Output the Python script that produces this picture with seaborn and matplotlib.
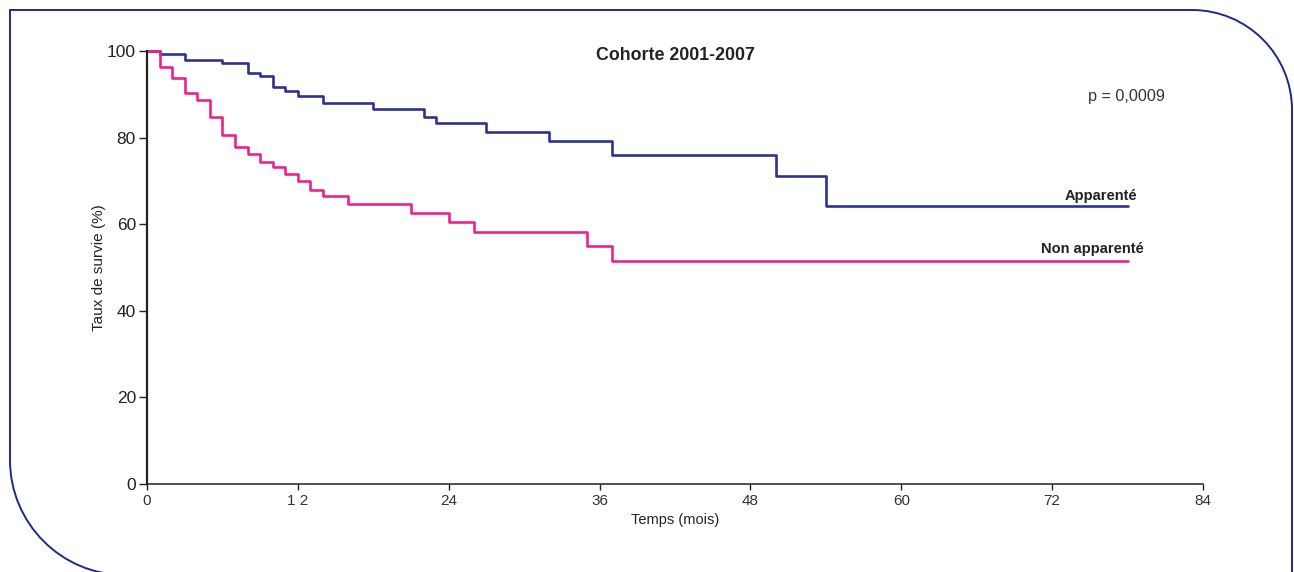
import numpy as np
import pandas as pd
import matplotlib
matplotlib.use("Agg")
import matplotlib.pyplot as plt
import seaborn as sns
from matplotlib.path import Path
from matplotlib.patches import PathPatch
from matplotlib.transforms import IdentityTransform

# ---- data ----
time_apparente = [0, 1, 3, 6, 8, 9, 10, 11, 12, 14, 18, 22, 23, 27, 32, 37, 50, 54, 78]
surv_apparente = [100, 99.2, 97.9, 97.3, 95.0, 94.2, 91.8, 90.8, 89.6, 88.1, 86.5,
                  84.8, 83.4, 81.4, 79.1, 76.0, 71.1, 64.1, 64.1]
time_non_apparente = [0, 1, 2, 3, 4, 5, 6, 7, 8, 9, 10, 11, 12, 13, 14, 16, 21, 24,
                      26, 35, 37, 78]
surv_non_apparente = [100, 96.4, 93.7, 90.2, 88.7, 84.8, 80.7, 77.9, 76.1, 74.4, 73.1,
                      71.6, 70.0, 67.9, 66.5, 64.6, 62.6, 60.4, 58.3, 55.0, 51.4, 51.4]
groups = ["Apparenté", "Non apparenté"]
x_ticks = [0, 12, 24, 36, 48, 60, 72, 84]
x_tick_labels = ["0", "1 2", "24", "36", "48", "60", "72", "84"]
y_ticks = [0, 20, 40, 60, 80, 100]

df = pd.concat([
    pd.DataFrame({"t": time_apparente, "s": surv_apparente, "g": groups[0]}),
    pd.DataFrame({"t": time_non_apparente, "s": surv_non_apparente, "g": groups[1]}),
], ignore_index=True)

sns.set_style("white")
plt.rcParams["font.family"] = ["Liberation Sans", "DejaVu Sans"]

W, H = 1294, 572
fig = plt.figure(figsize=(W / 100, H / 100), dpi=100)
ax = fig.add_axes([147 / W, 1 - 484 / H, (1203 - 147) / W, (484 - 51) / H])

palette = {groups[0]: "#2e3192", groups[1]: "#ec2290"}
sns.lineplot(data=df, x="t", y="s", hue="g", palette=palette, estimator=None,
             sort=False, drawstyle="steps-post", linewidth=1.9, legend=False,
             ax=ax, clip_on=False)

ax.set_xlim(0, 84)
ax.set_ylim(0, 100)
ax.set_xticks(x_ticks)
ax.set_xticklabels(x_tick_labels)
ax.set_yticks(y_ticks)
for s in ["top", "right"]:
    ax.spines[s].set_visible(False)
for s in ["left", "bottom"]:
    ax.spines[s].set_color("#222222")
ax.spines["left"].set_linewidth(1.6)
ax.spines["bottom"].set_linewidth(1.1)
ax.tick_params(axis="y", direction="out", length=6, width=1.0, color="#222222",
               labelsize=12.5, labelcolor="#222222", pad=2, left=True)
ax.tick_params(axis="x", direction="out", length=4, width=1.0, color="#222222",
               labelsize=11, labelcolor="#333333", pad=3, bottom=True)
ax.set_xlabel("Temps (mois)", fontsize=10.5, color="#222222", labelpad=4)
ax.set_ylabel("Taux de survie (%)", fontsize=11, color="#222222", labelpad=1)
ax.grid(False)

ax.set_title("Cohorte 2001-2007", fontsize=12.8, fontweight="bold", color="#222222",
             y=0.99, va="top")
ax.text(1165 / W, 1 - 97 / H, "p = 0,0009", transform=fig.transFigure,
        ha="right", va="center", fontsize=11.6, color="#333333")
ax.text(1137 / W, 1 - 196 / H, "Apparenté", transform=fig.transFigure,
        ha="right", va="center", fontsize=10.5, fontweight="bold", color="#222222")
ax.text(1144 / W, 1 - 249 / H, "Non apparenté", transform=fig.transFigure,
        ha="right", va="center", fontsize=10.5, fontweight="bold", color="#222222")

# ---- rounded frame (pixel coords, origin top-left -> flipped) ----
def P(x, y):
    return (x, H - y)

k = 0.5523
verts, codes = [], []
def mv(p):
    verts.append(p); codes.append(Path.MOVETO)
def ln(p):
    verts.append(p); codes.append(Path.LINETO)
def cb(p1, p2, p3):
    verts.extend([p1, p2, p3]); codes.extend([Path.CURVE4] * 3)

xr, yt, xl = 1292, 10, 10
R1 = 100
mv(P(xr, 600))
ln(P(xr, yt + R1))
cb(P(xr, yt + R1 - k * R1), P(xr - R1 + k * R1, yt), P(xr - R1, yt))
ln(P(xl, yt))
R2 = 115
ybl = 460
ln(P(xl, ybl))
cb(P(xl, ybl + k * R2), P(xl + R2 - k * R2, ybl + R2), P(xl + R2, ybl + R2))
ln(P(xl + R2 + 50, ybl + R2))

frame = PathPatch(Path(verts, codes), facecolor="none", edgecolor="#1f2a86",
                  linewidth=1.4, transform=IdentityTransform())
fig.patches.append(frame)

fig.savefig("out.png", dpi=100)
